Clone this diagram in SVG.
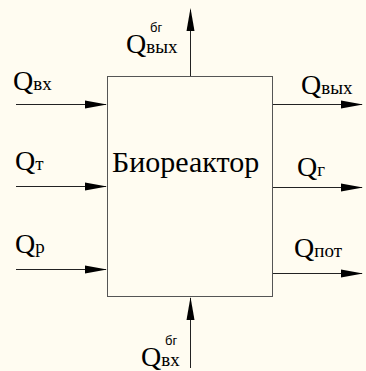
<svg xmlns="http://www.w3.org/2000/svg" width="366" height="371" viewBox="0 0 366 371">
<style>
.sf{font-family:'Times New Roman',Times,'Noto Serif','FreeSerif','Liberation Serif','DejaVu Serif',serif}
.q{font-size:28px;fill:#000}
.s{font-size:19px}
.sup{font-family:'Liberation Sans',Arial,sans-serif;font-size:13px;fill:#000}
.ln{stroke:#222;stroke-width:1;fill:none}
.ah{fill:#000}
</style>
<rect width="366" height="371" fill="#FFFCF1"/>
<g id="bioreactor">
<rect x="107.5" y="76.5" width="165" height="220" fill="#FFFCF1" stroke="#555" stroke-width="1"/>
<text class="sf" x="112" y="172" font-size="30">Биореактор</text>
</g>
<g id="connectors">
<line class="ln" x1="16" y1="104.5" x2="106" y2="104.5"/>
<polygon class="ah" points="85,100.5 107,104.5 85,108.5"/>
<line class="ln" x1="16" y1="186.5" x2="106" y2="186.5"/>
<polygon class="ah" points="85,182.5 107,186.5 85,190.5"/>
<line class="ln" x1="16" y1="269.5" x2="106" y2="269.5"/>
<polygon class="ah" points="85,265.5 107,269.5 85,273.5"/>
<line class="ln" x1="273" y1="104.5" x2="362" y2="104.5"/>
<polygon class="ah" points="341,100.5 363,104.5 341,108.5"/>
<line class="ln" x1="273" y1="187.5" x2="362" y2="187.5"/>
<polygon class="ah" points="341,183.5 363,187.5 341,191.5"/>
<line class="ln" x1="273" y1="273.5" x2="362" y2="273.5"/>
<polygon class="ah" points="341,269.5 363,273.5 341,277.5"/>
<line class="ln" x1="190.5" y1="76" x2="190.5" y2="10"/>
<polygon class="ah" points="186.5,31 190.5,8 194.5,31"/>
<line class="ln" x1="190.5" y1="368" x2="190.5" y2="298"/>
<polygon class="ah" points="186.5,320 190.5,297 194.5,320"/>
</g>
<g id="label-q-vkh">
<text class="sf q" x="13" y="90">Q<tspan class="s">вх</tspan></text>
</g>
<g id="label-q-t">
<text class="sf q" x="15" y="170">Q<tspan class="s">т</tspan></text>
</g>
<g id="label-q-r">
<text class="sf q" x="15" y="253">Q<tspan class="s">р</tspan></text>
</g>
<g id="label-q-vykh">
<text class="sf q" x="301" y="94">Q<tspan class="s">вых</tspan></text>
</g>
<g id="label-q-g">
<text class="sf q" x="297" y="176">Q<tspan class="s">г</tspan></text>
</g>
<g id="label-q-pot">
<text class="sf q" x="294" y="257">Q<tspan class="s">пот</tspan></text>
</g>
<g id="label-q-vykh-bg">
<text class="sf q" x="126" y="53">Q<tspan class="s">вых</tspan></text>
<text class="sup" x="150" y="32">бг</text>
</g>
<g id="label-q-vkh-bg">
<text class="sf q" x="141" y="366">Q<tspan class="s">вх</tspan></text>
<text class="sup" x="165" y="345">бг</text>
</g>
</svg>
